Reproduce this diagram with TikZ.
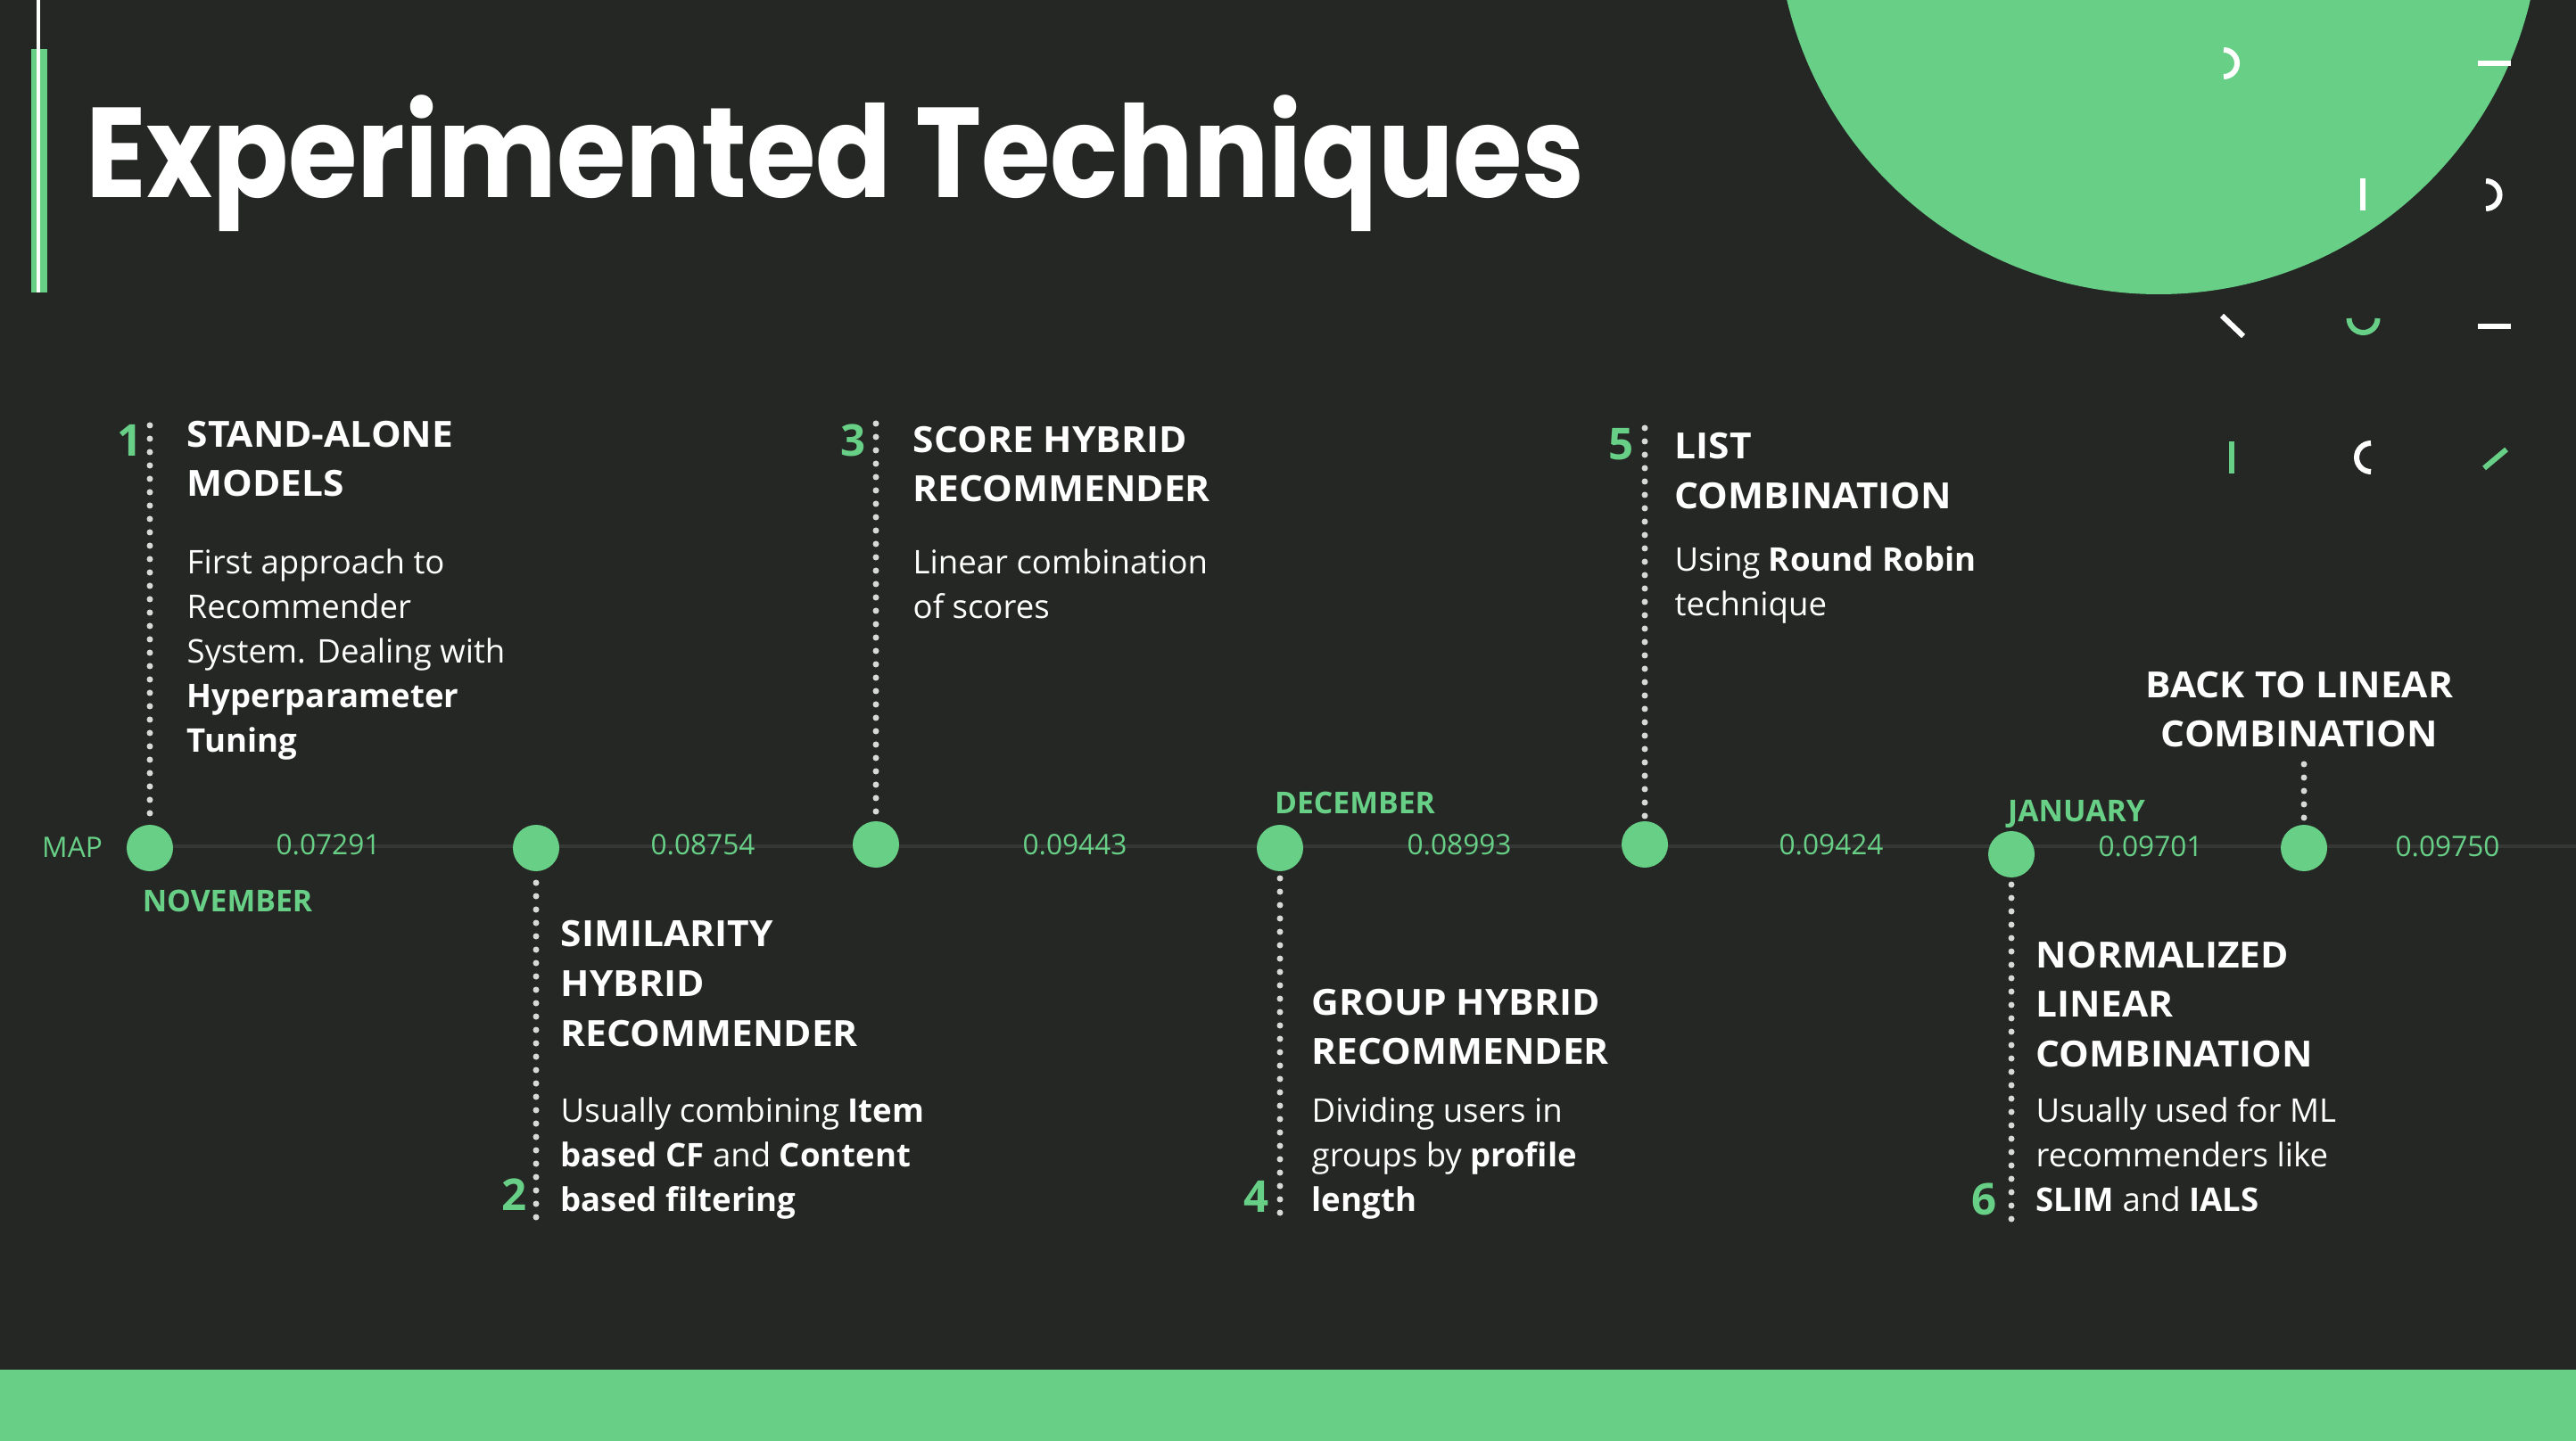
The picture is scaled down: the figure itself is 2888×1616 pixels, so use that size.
\documentclass[tikz,border=0pt]{standalone}
\usepackage{fontspec}
\setmainfont{Open Sans}
\newfontfamily\titlefont[FakeStretch=0.875]{Poppins}
\newfontfamily\headfont[FakeStretch=1.05]{Open Sans}
\definecolor{bg}{HTML}{252725}
\definecolor{accent}{HTML}{68D086}
\definecolor{track}{HTML}{353735}
\definecolor{dotc}{HTML}{D8D8D8}

\tikzset{
  milestone/.style={circle, fill=accent, minimum size=5.2mm, inner sep=0pt},
  trail/.style={dotc, line width=0.7mm, line cap=round, dash pattern=on 0pt off 1.5mm},
  idx/.style={text=accent, font=\fontsize{14}{14}\selectfont\bfseries, inner sep=0pt, anchor=east},
  head/.style={text=white, font=\fontsize{11.5}{15.8}\selectfont\headfont\bfseries, align=left, inner sep=0pt, anchor=north west},
  body/.style={text=white, font=\fontsize{10.4}{14.2}\selectfont, align=left, inner sep=0pt, anchor=north west},
  score/.style={text=accent, font=\fontsize{9}{9}\selectfont, inner sep=0pt},
  month/.style={text=accent, font=\fontsize{9.6}{9.6}\selectfont\bfseries, inner sep=0pt},
  glyph/.style={line width=0.6mm},
}

\begin{document}
\begin{tikzpicture}[x=0.1mm, y=-0.1mm]
  % canvas
  \useasboundingbox (0,0) rectangle (2888,1616);
  \clip (0,0) rectangle (2888,1616);
  \fill[bg] (0,0) rectangle (2888,1616);

  % corner disc and footer band
  \fill[accent] (2420,-98) circle[radius=428];
  \fill[accent] (0,1536) rectangle (2888,1616);

  % title with its side marker
  \fill[accent] (35,55) rectangle (53,328);
  \draw[white, line width=0.4mm] (43,0) -- (43,328);
  \node[anchor=base west, inner sep=0pt, text=white,
        font=\fontsize{40.8}{40.8}\selectfont\titlefont\bfseries] (title) at (96,222) {Experimented Techniques};

  % little glyph pattern, top right
  \draw[glyph, white] (2493,56) arc[start angle=-90, end angle=90, radius=15];
  \draw[glyph, white] (2778,71) -- (2815,71);
  \draw[glyph, white] (2649,200) -- (2649,236);
  \draw[glyph, white] (2787,203) arc[start angle=-90, end angle=90, radius=15.5];
  \draw[glyph, white] (2491,354) -- (2515,377);
  \draw[glyph, accent] (2665.5,357) arc[start angle=0, end angle=180, radius=16];
  \draw[glyph, white] (2778,366) -- (2815,366);
  \draw[glyph, accent] (2502,495) -- (2502,531);
  \draw[glyph, white] (2658,497) arc[start angle=-90, end angle=-270, radius=16];
  \draw[glyph, accent] (2785,525) -- (2810,504);

  % timeline track
  \coordinate (trackstart) at (168,949);
  \coordinate (trackend) at (2888,949);
  \draw[track, line width=0.4mm] (trackstart) -- (trackend);

  % milestones
  \node[milestone] (c1) at (168,951) {};
  \node[milestone] (c2) at (601,951) {};
  \node[milestone] (c3) at (982,947) {};
  \node[milestone] (c4) at (1435,951) {};
  \node[milestone] (c5) at (1844,947) {};
  \node[milestone] (c6) at (2255,958) {};
  \node[milestone] (c7) at (2583,951) {};

  % dotted leaders
  \coordinate (t1) at (168,477);
  \coordinate (t3) at (982,475);
  \coordinate (t5) at (1844,480);
  \coordinate (t7) at (2583,857);
  \coordinate (t2) at (601,1365);
  \coordinate (t4) at (1435,1360);
  \coordinate (t6) at (2255,1367);
  \draw[trail] (t1) -- (c1.north);
  \draw[trail] (t3) -- (c3.north);
  \draw[trail] (t5) -- (c5.north);
  \draw[trail] (t7) -- (c7.north);
  \draw[trail] (t2) -- (c2.south);
  \draw[trail] (t4) -- (c4.south);
  \draw[trail] (t6) -- (c6.south);

  % scores along the track
  \node[score] (map) at (81,950) {MAP};
  \node[score] (s1) at (368,947) {0.07291};
  \node[score] (s2) at (788,947) {0.08754};
  \node[score] (s3) at (1205,947) {0.09443};
  \node[score] (s4) at (1636,947) {0.08993};
  \node[score] (s5) at (2053,947) {0.09424};
  \node[score] (s6) at (2411,949) {0.09701};
  \node[score] (s7) at (2744,949) {0.09750};

  % months
  \node[month] (nov) at (255,1010) {NOVEMBER};
  \node[month] (dec) at (1519,900) {DECEMBER};
  \node[month] (jan) at (2328,913) {JANUARY};

  % step numbers
  \node[idx] (n1) at (160,494) {1};
  \node[idx] (n2) at (591,1340) {2};
  \node[idx] (n3) at (971,494) {3};
  \node[idx] (n4) at (1423,1342) {4};
  \node[idx] (n5) at (1832,498) {5};
  \node[idx] (n6) at (2239,1345) {6};

  % step 1
  \node[head] (h1) at (209,471) {STAND-ALONE\\MODELS};
  \node[body] (b1) at (209,615) {First approach to\\Recommender\\System. Dealing with\\\textbf{Hyperparameter}\\\textbf{Tuning}};
  % step 2
  \node[head] (h2) at (628,1032) {SIMILARITY\\HYBRID\\RECOMMENDER};
  \node[body] (b2) at (628,1230) {Usually combining \textbf{Item}\\\textbf{based CF} and \textbf{Content}\\\textbf{based filtering}};
  % step 3
  \node[head] (h3) at (1023,477) {SCORE HYBRID\\RECOMMENDER};
  \node[body] (b3) at (1023,615) {Linear combination\\of scores};
  % step 4
  \node[head] (h4) at (1470,1108) {GROUP HYBRID\\RECOMMENDER};
  \node[body] (b4) at (1470,1230) {Dividing users in\\groups by \textbf{profile}\\\textbf{length}};
  % step 5
  \node[head] (h5) at (1877,485) {LIST\\COMBINATION};
  \node[body] (b5) at (1877,612) {Using \textbf{Round Robin}\\technique};
  % step 6
  \node[head] (h6) at (2282,1055) {NORMALIZED\\LINEAR\\COMBINATION};
  \node[body] (b6) at (2282,1230) {Usually used for ML\\recommenders like\\\textbf{SLIM} and \textbf{IALS}};
  % last step
  \node[head, anchor=north, align=center] (h7) at (2578,752) {BACK TO LINEAR\\COMBINATION};
\end{tikzpicture}
\end{document}
